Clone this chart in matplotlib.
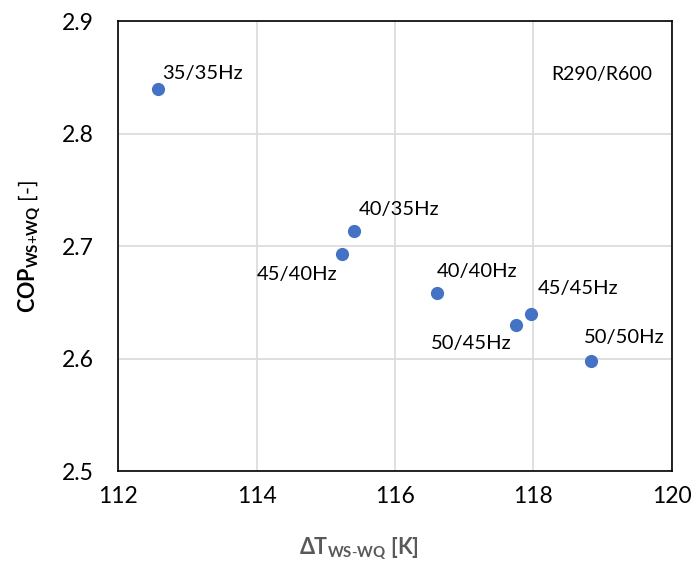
import numpy as np
import matplotlib
matplotlib.use("Agg")
import matplotlib.pyplot as plt
from matplotlib import font_manager

# Lato looks closest to the Calibri of the reference; fall back if no bold face
fam = "Lato"
bold_file = font_manager.findfont(font_manager.FontProperties(family=fam, weight="bold"))
if "bold" not in bold_file.lower():
    fam = "Open Sans"

plt.rcParams["font.family"] = [fam, "DejaVu Sans"]
plt.rcParams["mathtext.fontset"] = "custom"
plt.rcParams["mathtext.rm"] = fam
plt.rcParams["mathtext.it"] = fam + ":italic"
plt.rcParams["mathtext.bf"] = fam + ":bold"

# data
labels = ["35/35Hz", "40/35Hz", "45/40Hz", "40/40Hz", "45/45Hz", "50/45Hz", "50/50Hz"]
dT = [112.57, 115.40, 115.23, 116.60, 117.97, 117.75, 118.83]
cop = [2.840, 2.713, 2.693, 2.658, 2.640, 2.630, 2.598]

# label offsets (points) and alignment
offsets = [(3, 6.5), (3.6, 12), (-3.4, -18.5), (0, 11.5), (4.5, 14), (-3.6, -17.5), (-5, 12.5)]
aligns = ["left", "left", "right", "left", "left", "right", "left"]

fig = plt.figure(figsize=(6.94, 5.62), dpi=100)
ax = fig.add_axes([0.1706, 0.1619, 0.7974, 0.8007])

ax.scatter(dT, cop, s=72, color="#4472C4", zorder=3)

for lab, x, y, off, ha in zip(labels, dT, cop, offsets, aligns):
    ax.annotate(lab, (x, y), xytext=off, textcoords="offset points",
                ha=ha, va="baseline", fontsize=14.5, color="#000000")

ax.text(0.964, 0.869, "R290/R600", transform=ax.transAxes, ha="right",
        va="baseline", fontsize=14)

ax.set_xlim(112, 120)
ax.set_ylim(2.5, 2.9)
ax.set_xticks(np.arange(112, 121, 2))
ax.set_yticks(np.arange(2.5, 2.91, 0.1))
ax.set_yticklabels(["2.5", "2.6", "2.7", "2.8", "2.9"])
ax.tick_params(axis="both", length=0, labelsize=16.5, colors="#000000")
ax.tick_params(axis="x", pad=11)
ax.tick_params(axis="y", pad=18)

ax.grid(True, color="#D9D9D9", linewidth=1.2)
ax.set_axisbelow(True)
for sp in ax.spines.values():
    sp.set_color("#000000")
    sp.set_linewidth(1.2)

ax.set_xlabel(r"$\mathbf{\Delta T}_{\mathbf{WS\text{-}WQ}}$ [K]", fontsize=15.5,
              fontweight="bold", color="#595959")
ax.xaxis.set_label_coords(0.435, -0.143)
ax.set_ylabel(r"$\mathbf{COP}_{\mathbf{WS\text{+}WQ}}$ [-]", fontsize=15.5,
              color="#000000")
ax.yaxis.set_label_coords(-0.136, 0.5)

fig.savefig("out.png", dpi=100)
